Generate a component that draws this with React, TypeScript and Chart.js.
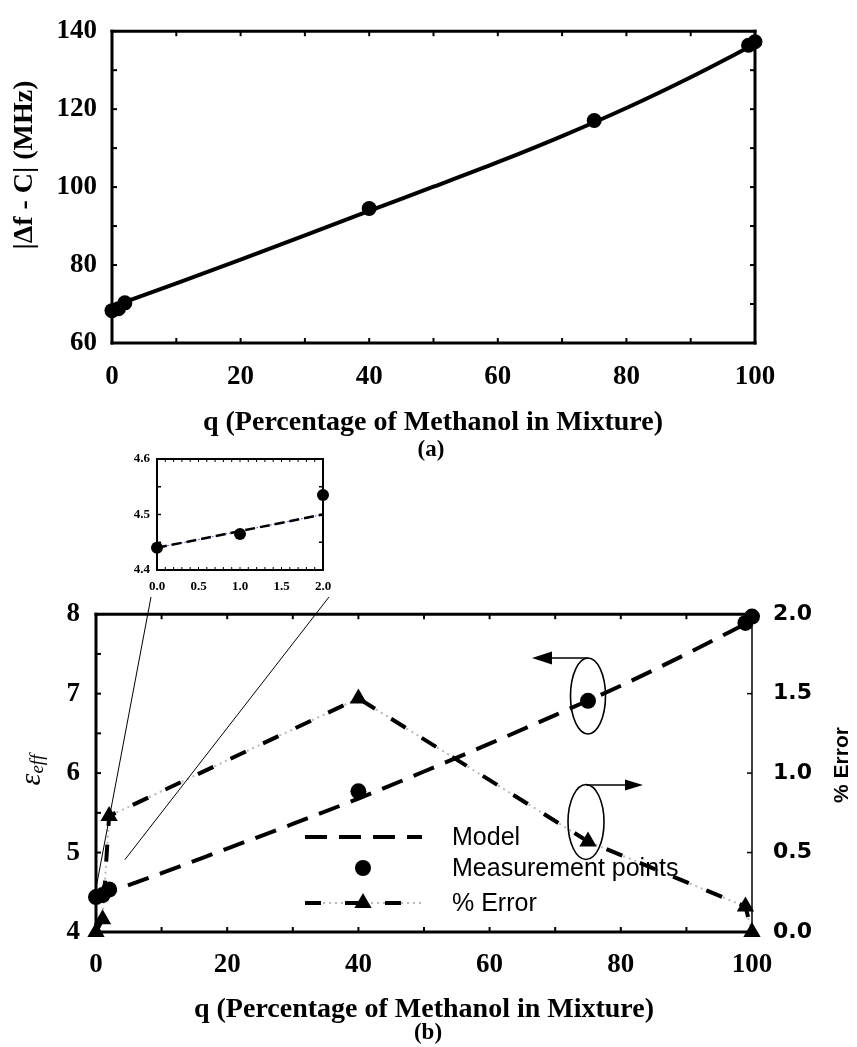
import React, { useEffect, useRef } from "react";
import { Chart, registerables } from "chart.js";
Chart.register(...registerables);

// ---------------- Panel (a) data ----------------
const qA_model = [0, 10, 20, 30, 40, 50, 60, 70, 80, 90, 100];
const dfA_model = [69.3, 75.3, 81.4, 87.6, 93.9, 100.1, 106.4, 113.1, 120.3, 128.2, 136.7];
const qA_meas = [0, 1, 2, 40, 75, 99, 100];
const dfA_meas = [68.3, 68.8, 70.3, 94.5, 117.1, 136.4, 137.3];
const ticksA_x = [0, 20, 40, 60, 80, 100];
const ticksA_y = [60, 80, 100, 120, 140];
const minorA_x = [0, 10, 20, 30, 40, 50, 60, 70, 80, 90, 100];
const minorA_y = [60, 70, 80, 90, 100, 110, 120, 130, 140];

// ---------------- Panel (b) data ----------------
const qB_model = [0, 10, 20, 30, 40, 50, 60, 70, 80, 90, 100];
const epsB_model = [4.44, 4.74, 5.05, 5.36, 5.68, 6.02, 6.37, 6.73, 7.1, 7.5, 7.92];
const qB_meas = [0, 1, 2, 40, 75, 99, 100];
const epsB_meas = [4.44, 4.465, 4.535, 5.77, 6.91, 7.89, 7.97];
const errB = [0, 0.08, 0.73, 1.47, 0.57, 0.16, 0];
const ticksB_x = [0, 20, 40, 60, 80, 100];
const ticksB_y = [4, 5, 6, 7, 8];
const ticksB_y2 = [0, 0.5, 1.0, 1.5, 2.0];
const minorB_x = [0, 10, 20, 30, 40, 50, 60, 70, 80, 90, 100];
const minorB_y = [4, 4.5, 5, 5.5, 6, 6.5, 7, 7.5, 8];
const minorB_y2 = [0.5, 1.0, 1.5];
const legendLabels = ["Model", "Measurement points", "% Error"];

// ---------------- Inset data ----------------
const qIn_model = [0, 1, 2];
const epsIn_model = [4.44, 4.47, 4.5];
const qIn_meas = [0, 1, 2];
const epsIn_meas = [4.44, 4.465, 4.535];
const ticksIn_x = [0, 0.5, 1.0, 1.5, 2.0];
const ticksIn_y = [4.4, 4.5, 4.6];
const minorIn_x = [0, 0.1, 0.2, 0.3, 0.4, 0.5, 0.6, 0.7, 0.8, 0.9, 1.0, 1.1, 1.2, 1.3, 1.4, 1.5, 1.6, 1.7, 1.8, 1.9, 2.0];
const minorIn_y = [4.45, 4.5, 4.55];
// zoom connector targets on panel (b) (data coords)
const connectorTargets = [[0, 4.55], [4.4, 4.91]];

const SERIF = "'Liberation Serif', 'Times New Roman', serif";
const SANS = "'Liberation Sans', Arial, sans-serif";
const WIDE_SANS = "'DejaVu Sans', Verdana, sans-serif";

const pts = (xs: number[], ys: number[]) => xs.map((x, i) => ({ x, y: ys[i] }));
const setTicks = (arr: number[]) => (s: any) => {
  s.ticks = arr.map((v) => ({ value: v }));
};

type TickCfg = { side: "top" | "bottom" | "left" | "right"; scale: string; values: number[]; len: number; width: number };
function framePlugin(widths: { top: number; bottom: number; left: number; right: number }, ticks: TickCfg[]) {
  return {
    id: "frame",
    beforeDatasetsDraw(chart: any) {
      const { ctx, chartArea: a } = chart;
      ctx.save();
      ctx.strokeStyle = "#000";
      const line = (x1: number, y1: number, x2: number, y2: number, w: number) => {
        ctx.lineWidth = w;
        ctx.beginPath();
        ctx.moveTo(x1, y1);
        ctx.lineTo(x2, y2);
        ctx.stroke();
      };
      line(a.left - widths.left / 2, a.top, a.right + widths.right / 2, a.top, widths.top);
      line(a.left - widths.left / 2, a.bottom, a.right + widths.right / 2, a.bottom, widths.bottom);
      line(a.left, a.top - widths.top / 2, a.left, a.bottom + widths.bottom / 2, widths.left);
      line(a.right, a.top - widths.top / 2, a.right, a.bottom + widths.bottom / 2, widths.right);
      for (const t of ticks) {
        const s = chart.scales[t.scale];
        for (const v of t.values) {
          const p = s.getPixelForValue(v);
          if (t.side === "bottom") line(p, a.bottom, p, a.bottom - t.len, t.width);
          if (t.side === "top") line(p, a.top, p, a.top + t.len, t.width);
          if (t.side === "left") line(a.left, p, a.left + t.len, p, t.width);
          if (t.side === "right") line(a.right, p, a.right - t.len, p, t.width);
        }
      }
      ctx.restore();
    },
  };
}

type TextItem = { text: string; x: number; y: number; font: string; align?: CanvasTextAlign; baseline?: CanvasTextBaseline; rotate?: number };
function textPlugin(items: TextItem[], extra?: (chart: any) => void) {
  return {
    id: "texts",
    afterDraw(chart: any) {
      const ctx = chart.ctx;
      for (const t of items) {
        ctx.save();
        ctx.translate(t.x, t.y);
        if (t.rotate) ctx.rotate(t.rotate);
        ctx.font = t.font;
        ctx.fillStyle = "#000";
        ctx.textAlign = t.align || "center";
        ctx.textBaseline = t.baseline || "alphabetic";
        ctx.fillText(t.text, 0, 0);
        ctx.restore();
      }
      if (extra) extra(chart);
    },
  };
}

function tickFont(size: number, family = SERIF) {
  return { family, size, weight: "bold" as const, lineHeight: 1.2 };
}

export default function App() {
  const refA = useRef<HTMLCanvasElement>(null);
  const refB = useRef<HTMLCanvasElement>(null);
  const refI = useRef<HTMLCanvasElement>(null);

  useEffect(() => {
    // ---------------- Chart (a) ----------------
    const chartA = new Chart(refA.current as HTMLCanvasElement, {
      type: "scatter",
      data: {
        datasets: [
          {
            data: pts(qA_meas, dfA_meas),
            showLine: false,
            pointRadius: 7.5,
            pointBackgroundColor: "#000",
            pointBorderWidth: 0,
            clip: false,
            order: 0,
          } as any,
          {
            data: pts(qA_model, dfA_model),
            showLine: true,
            borderColor: "#000",
            borderWidth: 4,
            pointRadius: 0,
            cubicInterpolationMode: "monotone",
            clip: false,
            order: 1,
          } as any,
        ],
      },
      options: {
        responsive: false,
        animation: false,
        devicePixelRatio: 1,
        events: [],
        layout: { padding: { left: 0, top: 21, right: 102, bottom: 0 } },
        plugins: { legend: { display: false }, tooltip: { enabled: false } },
        scales: {
          x: {
            type: "linear",
            position: "bottom",
            min: 0,
            max: 100,
            grid: { display: false, drawTicks: false },
            border: { display: false },
            afterBuildTicks: setTicks(ticksA_x),
            afterFit: (s: any) => {
              s.height = 127;
            },
            ticks: { font: tickFont(27), color: "#000", padding: 18, maxRotation: 0, autoSkip: false },
          },
          y: {
            type: "linear",
            position: "left",
            min: 60,
            max: 140,
            grid: { display: false, drawTicks: false },
            border: { display: false },
            afterBuildTicks: setTicks(ticksA_y),
            afterFit: (s: any) => {
              s.width = 112;
            },
            ticks: { font: tickFont(27), color: "#000", padding: 15, autoSkip: false },
          },
        },
      },
      plugins: [
        framePlugin({ top: 3, bottom: 3, left: 3, right: 3 }, [
          { side: "bottom", scale: "x", values: minorA_x, len: 5, width: 2 },
          { side: "top", scale: "x", values: minorA_x, len: 5, width: 2 },
          { side: "left", scale: "y", values: minorA_y, len: 5, width: 2 },
          { side: "right", scale: "y", values: minorA_y, len: 5, width: 2 },
        ]),
        textPlugin([
          { text: "|\u0394f - C| (MHz)", x: 25, y: 165, font: `bold 28px ${SERIF}`, baseline: "middle", rotate: -Math.PI / 2 },
          { text: "q (Percentage of Methanol in Mixture)", x: 433, y: 430, font: `bold 28px ${SERIF}` },
          { text: "(a)", x: 431, y: 456, font: `bold 23px ${SERIF}` },
        ]),
      ],
    } as any);

    // ---------------- Chart (b) ----------------
    const OFF = 580; // canvas top on page
    const chartB = new Chart(refB.current as HTMLCanvasElement, {
      type: "scatter",
      data: {
        datasets: [
          {
            label: legendLabels[1],
            data: pts(qB_meas, epsB_meas),
            yAxisID: "y",
            showLine: false,
            pointRadius: 8,
            pointBackgroundColor: "#000",
            pointBorderWidth: 0,
            clip: false,
            order: 0,
          } as any,
          {
            label: legendLabels[2],
            data: pts(qB_meas, errB),
            yAxisID: "y2",
            showLine: true,
            borderColor: "#000",
            borderWidth: 4,
            borderDash: [17, 19],
            pointStyle: "triangle",
            pointRadius: 10,
            pointBackgroundColor: "#000",
            pointBorderColor: "#000",
            pointBorderWidth: 0,
            clip: false,
            order: 1,
          } as any,
          {
            data: pts(qB_meas, errB),
            yAxisID: "y2",
            showLine: true,
            borderColor: "#b8b8b8",
            borderWidth: 2,
            borderDash: [2, 4],
            pointRadius: 0,
            clip: false,
            order: 3,
          } as any,
          {
            label: legendLabels[0],
            data: pts(qB_model, epsB_model),
            yAxisID: "y",
            showLine: true,
            borderColor: "#000",
            borderWidth: 4,
            borderDash: [22, 12],
            pointRadius: 0,
            cubicInterpolationMode: "monotone",
            clip: false,
            order: 2,
          } as any,
        ],
      },
      options: {
        responsive: false,
        animation: false,
        devicePixelRatio: 1,
        events: [],
        layout: { padding: { left: 0, top: 23, right: 25, bottom: 0 } },
        plugins: { legend: { display: false }, tooltip: { enabled: false } },
        scales: {
          x: {
            type: "linear",
            position: "bottom",
            min: 0,
            max: 100,
            grid: { display: false, drawTicks: false },
            border: { display: false },
            afterBuildTicks: setTicks(ticksB_x),
            afterFit: (s: any) => {
              s.height = 115;
            },
            ticks: { font: tickFont(27), color: "#000", padding: 17, maxRotation: 0, autoSkip: false },
          },
          y: {
            type: "linear",
            position: "left",
            min: 4,
            max: 8,
            grid: { display: false, drawTicks: false },
            border: { display: false },
            afterBuildTicks: setTicks(ticksB_y),
            afterFit: (s: any) => {
              s.width = 96;
            },
            ticks: { font: tickFont(27), color: "#000", padding: 16, autoSkip: false },
          },
          y2: {
            type: "linear",
            position: "right",
            min: 0,
            max: 2,
            grid: { display: false, drawTicks: false },
            border: { display: false },
            afterBuildTicks: setTicks(ticksB_y2),
            afterFit: (s: any) => {
              s.width = 80;
            },
            ticks: {
              font: tickFont(22, WIDE_SANS),
              color: "#000",
              padding: 21,
              autoSkip: false,
              callback: (v: any) => Number(v).toFixed(1),
            },
          },
        },
      },
      plugins: [
        framePlugin({ top: 3, bottom: 3, left: 3, right: 1.5 }, [
          { side: "bottom", scale: "x", values: minorB_x, len: 5, width: 2 },
          { side: "top", scale: "x", values: minorB_x, len: 5, width: 2 },
          { side: "left", scale: "y", values: minorB_y, len: 5, width: 2 },
          { side: "right", scale: "y2", values: minorB_y2, len: 5, width: 1.5 },
        ]),
        textPlugin(
          [
            { text: "% Error", x: 842, y: 765 - OFF, font: `bold 21px ${SANS}`, baseline: "middle", rotate: -Math.PI / 2 },
            { text: "q (Percentage of Methanol in Mixture)", x: 424, y: 1017 - OFF, font: `bold 28px ${SERIF}` },
            { text: "(b)", x: 428, y: 1039 - OFF, font: `bold 23px ${SERIF}` },
          ],
          (chart: any) => {
            const ctx = chart.ctx;
            const xs = chart.scales.x;
            const ys = chart.scales.y;
            ctx.save();
            // epsilon_eff
            ctx.translate(34, 770 - OFF);
            ctx.rotate(-Math.PI / 2);
            ctx.fillStyle = "#000";
            ctx.textAlign = "left";
            ctx.textBaseline = "alphabetic";
            ctx.font = `italic 30px ${SERIF}`;
            const w1 = ctx.measureText("\u03B5").width;
            ctx.font = `italic 19px ${SERIF}`;
            const w2 = ctx.measureText("eff").width;
            const st = -(w1 + w2) / 2;
            ctx.font = `italic 30px ${SERIF}`;
            ctx.fillText("\u03B5", st, 6);
            ctx.font = `italic 19px ${SERIF}`;
            ctx.fillText("eff", st + w1, 9);
            ctx.restore();

            // legend
            ctx.save();
            const lx1 = 305, lx2 = 422, tx = 452;
            const rows = [837 - OFF, 868 - OFF, 903 - OFF];
            ctx.strokeStyle = "#000";
            ctx.lineWidth = 4;
            ctx.setLineDash([22, 12]);
            ctx.beginPath();
            ctx.moveTo(lx1, rows[0]);
            ctx.lineTo(lx2, rows[0]);
            ctx.stroke();
            ctx.setLineDash([]);
            ctx.fillStyle = "#000";
            ctx.beginPath();
            ctx.arc(363, rows[1], 8, 0, Math.PI * 2);
            ctx.fill();
            ctx.strokeStyle = "#b8b8b8";
            ctx.lineWidth = 2;
            ctx.setLineDash([2, 4]);
            ctx.beginPath();
            ctx.moveTo(lx1, rows[2]);
            ctx.lineTo(lx2, rows[2]);
            ctx.stroke();
            ctx.strokeStyle = "#000";
            ctx.lineWidth = 4;
            ctx.setLineDash([16, 24]);
            ctx.beginPath();
            ctx.moveTo(lx1, rows[2]);
            ctx.lineTo(lx2, rows[2]);
            ctx.stroke();
            ctx.setLineDash([]);
            const r = 10;
            ctx.beginPath();
            ctx.moveTo(363, rows[2] - r);
            ctx.lineTo(363 + r * Math.sin((2 * Math.PI) / 3), rows[2] - r * Math.cos((2 * Math.PI) / 3));
            ctx.lineTo(363 + r * Math.sin((4 * Math.PI) / 3), rows[2] - r * Math.cos((4 * Math.PI) / 3));
            ctx.closePath();
            ctx.fill();
            ctx.font = `25px ${SANS}`;
            ctx.textAlign = "left";
            ctx.textBaseline = "middle";
            legendLabels.forEach((l, i) => ctx.fillText(l, tx, rows[i] + 1));
            ctx.restore();

            // ellipses & arrows
            ctx.save();
            ctx.strokeStyle = "#000";
            ctx.fillStyle = "#000";
            ctx.lineWidth = 1.6;
            const ell = (cx: number, cy: number, rx: number, ry: number) => {
              ctx.beginPath();
              ctx.ellipse(cx, cy, rx, ry, 0, 0, Math.PI * 2);
              ctx.stroke();
            };
            const arrow = (x1: number, y: number, x2: number, hl: number, hw: number) => {
              const dir = Math.sign(x2 - x1);
              ctx.beginPath();
              ctx.moveTo(x1, y);
              ctx.lineTo(x2 - dir * hl, y);
              ctx.stroke();
              ctx.beginPath();
              ctx.moveTo(x2, y);
              ctx.lineTo(x2 - dir * hl, y - hw);
              ctx.lineTo(x2 - dir * hl, y + hw);
              ctx.closePath();
              ctx.fill();
            };
            ell(588, 696 - OFF, 17.5, 38);
            arrow(588, 658 - OFF, 532, 20, 6.5);
            ell(586, 822 - OFF, 18, 37.5);
            arrow(586, 785 - OFF, 643, 18, 5.5);

            // zoom connector lines
            ctx.lineWidth = 1;
            const starts = [[151, 597 - OFF], [329, 597 - OFF]];
            connectorTargets.forEach((t, i) => {
              ctx.beginPath();
              ctx.moveTo(starts[i][0], starts[i][1]);
              ctx.lineTo(xs.getPixelForValue(t[0]), ys.getPixelForValue(t[1]));
              ctx.stroke();
            });
            ctx.restore();
          }
        ),
      ],
    } as any);

    // ---------------- Inset ----------------
    const chartI = new Chart(refI.current as HTMLCanvasElement, {
      type: "scatter",
      data: {
        datasets: [
          {
            data: pts(qIn_meas, epsIn_meas),
            showLine: false,
            pointRadius: 6,
            pointBackgroundColor: "#000",
            pointBorderWidth: 0,
            clip: false,
            order: 0,
          } as any,
          {
            data: pts(qIn_model, epsIn_model),
            showLine: true,
            borderColor: "#000",
            borderWidth: 2.5,
            borderDash: [10, 5],
            pointRadius: 0,
            clip: false,
            order: 1,
          } as any,
          {
            data: pts(qIn_model, epsIn_model),
            showLine: true,
            borderColor: "#3a46c8",
            borderWidth: 1,
            borderDash: [1.5, 2],
            pointRadius: 0,
            clip: false,
            order: 2,
          } as any,
        ],
      },
      options: {
        responsive: false,
        animation: false,
        devicePixelRatio: 1,
        events: [],
        layout: { padding: { left: 0, top: 19, right: 27, bottom: 0 } },
        plugins: { legend: { display: false }, tooltip: { enabled: false } },
        scales: {
          x: {
            type: "linear",
            position: "bottom",
            min: 0,
            max: 2,
            grid: { display: false, drawTicks: false },
            border: { display: false },
            afterBuildTicks: setTicks(ticksIn_x),
            afterFit: (s: any) => {
              s.height = 30;
            },
            ticks: {
              font: tickFont(13),
              color: "#000",
              padding: 9,
              maxRotation: 0,
              autoSkip: false,
              callback: (v: any) => Number(v).toFixed(1),
            },
          },
          y: {
            type: "linear",
            position: "left",
            min: 4.4,
            max: 4.6,
            grid: { display: false, drawTicks: false },
            border: { display: false },
            afterBuildTicks: setTicks(ticksIn_y),
            afterFit: (s: any) => {
              s.width = 67;
            },
            ticks: {
              font: tickFont(13),
              color: "#000",
              padding: 7,
              autoSkip: false,
              callback: (v: any) => Number(v).toFixed(1),
            },
          },
        },
      },
      plugins: [
        framePlugin({ top: 2, bottom: 2, left: 2, right: 2 }, [
          { side: "bottom", scale: "x", values: minorIn_x, len: 3, width: 1 },
          { side: "top", scale: "x", values: minorIn_x, len: 3, width: 1 },
          { side: "left", scale: "y", values: minorIn_y, len: 4, width: 1.5 },
          { side: "right", scale: "y", values: minorIn_y, len: 4, width: 1.5 },
        ]),
      ],
    } as any);

    return () => {
      chartA.destroy();
      chartB.destroy();
      chartI.destroy();
    };
  }, []);

  return (
    <div style={{ position: "absolute", left: 0, top: 0, width: 857, height: 1047, background: "#fff" }}>
      <canvas ref={refA} width={857} height={470} style={{ position: "absolute", left: 0, top: 0 }} />
      <canvas ref={refB} width={857} height={467} style={{ position: "absolute", left: 0, top: 580 }} />
      <canvas ref={refI} width={260} height={160} style={{ position: "absolute", left: 90, top: 440 }} />
    </div>
  );
}
